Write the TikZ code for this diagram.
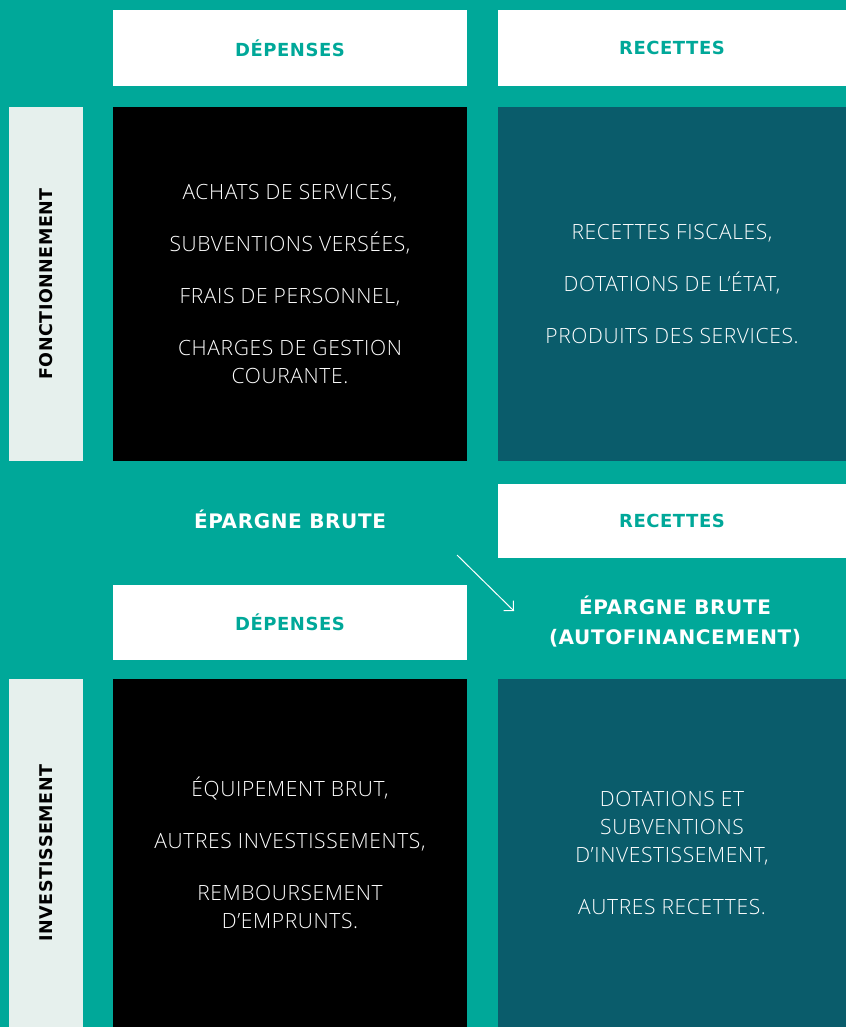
\documentclass[tikz,border=0pt]{standalone}
\usepackage{fontspec}
\setmainfont{Open Sans}
\newfontfamily\lightfont{Open Sans Light}[LetterSpace=3]
\newfontfamily\headfont{DejaVu Sans}[LetterSpace=3]
\usetikzlibrary{arrows.meta}
\definecolor{tealbg}{RGB}{0,168,153}
\definecolor{darkteal}{RGB}{10,92,107}
\definecolor{labelbg}{RGB}{230,240,237}

\begin{document}
\begin{tikzpicture}[x=1pt,y=-1pt,
  head/.style={fill=white,text=tealbg,inner sep=0pt,font=\headfont\bfseries\fontsize{18}{22}\selectfont},
  side/.style={fill=labelbg,text=black,inner sep=0pt,minimum width=74pt,font=\headfont\bfseries\fontsize{17.5}{20}\selectfont},
  depbox/.style={fill=black,text=white,inner sep=0pt,align=center,font=\lightfont\fontsize{21}{28}\selectfont},
  recbox/.style={fill=darkteal,text=white,inner sep=0pt,align=center,font=\lightfont\fontsize{21}{28}\selectfont},
  epargne/.style={text=white,align=center,font=\headfont\bfseries\fontsize{20}{30}\selectfont}]

\fill[tealbg] (0,0) rectangle (846,1027);

\node[head,minimum width=354pt,minimum height=76pt] (dep1) at (290,48) {DÉPENSES};
\node[head,minimum width=348pt,minimum height=76pt] (rec1) at (672,48) {RECETTES};

\node[side,minimum height=354pt] (fonct) at (46,284) {\rotatebox{90}{FONCTIONNEMENT}};
\node[depbox,minimum width=354pt,minimum height=354pt] (fdep) at (290,284)
  {ACHATS DE SERVICES,\\[24pt]SUBVENTIONS VERSÉES,\\[24pt]FRAIS DE PERSONNEL,\\[24pt]CHARGES DE GESTION\\COURANTE.};
\node[recbox,minimum width=348pt,minimum height=354pt] (frec) at (672,284)
  {RECETTES FISCALES,\\[24pt]DOTATIONS DE L’ÉTAT,\\[24pt]PRODUITS DES SERVICES.};

\node[epargne] (ep) at (290,519) {ÉPARGNE BRUTE};
\node[head,minimum width=348pt,minimum height=74pt] (rec2) at (672,521) {RECETTES};
\node[head,minimum width=354pt,minimum height=75pt] (dep2) at (290,622.5) {DÉPENSES};
\node[epargne] (autof) at (675,622) {ÉPARGNE BRUTE\\(AUTOFINANCEMENT)};

\coordinate (a1) at (457,555);
\coordinate (a2) at (514,611);
\draw[white,line width=1pt,-{Straight Barb[length=7pt,width=14pt]}] (a1) -- (a2);

\node[side,minimum height=348pt] (invest) at (46,853) {\rotatebox{90}{INVESTISSEMENT}};
\node[depbox,minimum width=354pt,minimum height=348pt] (idep) at (290,853)
  {ÉQUIPEMENT BRUT,\\[24pt]AUTRES INVESTISSEMENTS,\\[24pt]REMBOURSEMENT\\D’EMPRUNTS.};
\node[recbox,minimum width=348pt,minimum height=348pt] (irec) at (672,853)
  {DOTATIONS ET\\SUBVENTIONS\\D’INVESTISSEMENT,\\[24pt]AUTRES RECETTES.};
\end{tikzpicture}
\end{document}
